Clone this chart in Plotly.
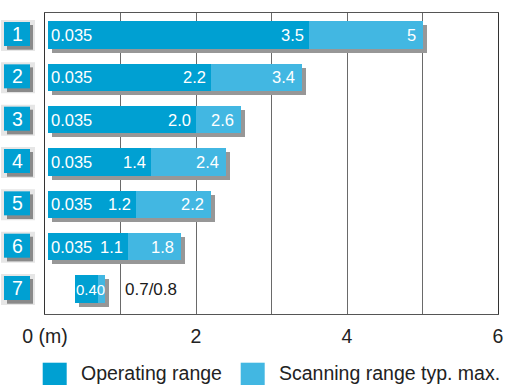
import plotly.graph_objects as go

# Sensor variants and their ranges in metres
rows = ["1", "2", "3", "4", "5", "6", "7"]
start = [0.035, 0.035, 0.035, 0.035, 0.035, 0.035, 0.40]
operating = [3.5, 2.2, 2.0, 1.4, 1.2, 1.1, 0.7]
scanning = [5.0, 3.4, 2.6, 2.4, 2.2, 1.8, 0.8]
start_labels = ["0.035", "0.035", "0.035", "0.035", "0.035", "0.035", "0.40"]
operating_labels = ["3.5", "2.2", "2.0", "1.4", "1.2", "1.1", ""]
scanning_labels = ["5", "3.4", "2.6", "2.4", "2.2", "1.8", ""]
outside_labels = ["", "", "", "", "", "", "0.7/0.8"]
x_ticks = [0, 1, 2, 3, 4, 5, 6]
x_ticktext = ["0 (m)", "", "2", "", "4", "", "6"]
legend_names = ["Operating range", "Scanning range typ. max."]

DARK = "#00A0D2"
LIGHT = "#42B7E2"
SHADOW = "#979797"
FONT = "Liberation Sans, Arial, sans-serif"

W, H = 505, 385
L, R, T, B = 45, 7, 13, 71
PW, PH = W - L - R, H - T - B
X_RANGE = [0, 6]
Y_RANGE = [7.59, 0.48]
BAR_W = 0.65

pos = list(range(1, len(rows) + 1))

# drop-shadow offset: 4 px right, 4 px down, expressed in axis units
dx = 4 * (X_RANGE[1] - X_RANGE[0]) / PW
dy = 4 * (Y_RANGE[0] - Y_RANGE[1]) / PH


def px_x(px):
    return (px - L) / PW


def px_y(py):
    return (H - B - py) / PH


fig = go.Figure()

fig.add_trace(go.Bar(
    orientation="h",
    y=[p + dy for p in pos],
    base=[s + dx for s in start],
    x=[e - s for s, e in zip(start, scanning)],
    width=BAR_W,
    marker=dict(color=SHADOW, line=dict(width=0)),
    hoverinfo="skip",
    showlegend=False,
))
fig.add_trace(go.Bar(
    orientation="h",
    y=pos,
    base=start,
    x=[o - s for s, o in zip(start, operating)],
    width=BAR_W,
    marker=dict(color=DARK, line=dict(width=0)),
    name=legend_names[0],
    showlegend=False,
))
fig.add_trace(go.Bar(
    orientation="h",
    y=pos,
    base=operating,
    x=[e - o for o, e in zip(operating, scanning)],
    width=BAR_W,
    marker=dict(color=LIGHT, line=dict(width=0)),
    name=legend_names[1],
    showlegend=False,
))

annotations = []
shapes = []

for p, s, o, e, sl, ol, el, xl in zip(pos, start, operating, scanning,
                                      start_labels, operating_labels,
                                      scanning_labels, outside_labels):
    white = dict(family=FONT, size=16.5, color="white")
    if ol:
        annotations.append(dict(x=s, y=p, xref="x", yref="y", text=sl,
                                showarrow=False, xanchor="left", xshift=2,
                                borderpad=0, font=white))
        annotations.append(dict(x=o, y=p, xref="x", yref="y", text=ol,
                                showarrow=False, xanchor="right", xshift=-4,
                                borderpad=0, font=white))
        annotations.append(dict(x=e, y=p, xref="x", yref="y", text=el,
                                showarrow=False, xanchor="right", xshift=-6,
                                borderpad=0, font=white))
    else:
        annotations.append(dict(x=(s + e) / 2, y=p, xref="x", yref="y",
                                text=sl, showarrow=False, xanchor="center",
                                font=dict(family=FONT, size=15, color="white")))
    if xl:
        annotations.append(dict(x=e, y=p, xref="x", yref="y", text=xl,
                                showarrow=False, xanchor="left", xshift=18,
                                font=dict(family=FONT, size=17, color="#1a1a1a")))

# numbered row badges on the left
badge_x = px_x(17)
for p, name in zip(pos, rows):
    common = dict(type="rect", xref="paper", yref="y", xsizemode="pixel",
                  ysizemode="pixel", xanchor=badge_x, yanchor=p,
                  line=dict(width=0), layer="above")
    shapes.append(dict(common, x0=-16, x1=18, y0=-16, y1=15,
                       fillcolor="#e6e6e6"))
    shapes.append(dict(common, x0=-10, x1=16, y0=-14.7, y1=10,
                       fillcolor="#8a8a8a"))
    shapes.append(dict(common, x0=-13, x1=13, y0=-11, y1=13,
                       fillcolor=DARK))
    annotations.append(dict(x=badge_x, y=p, xref="paper", yref="y",
                            text=name, showarrow=False, yshift=1,
                            xanchor="center", yanchor="middle",
                            font=dict(family=FONT, size=19.5, color="white")))

# legend keys
for (x0, tx), color, name in zip([(42.7, 79.3), (240.7, 276.7)],
                                 [DARK, LIGHT], legend_names):
    shapes.append(dict(type="rect", xref="paper", yref="paper",
                       x0=px_x(x0), x1=px_x(x0 + 24),
                       y0=px_y(386.7), y1=px_y(362.7),
                       fillcolor=color, line=dict(width=0)))
    annotations.append(dict(x=px_x(tx), y=px_y(373), xref="paper",
                            yref="paper", text=name, showarrow=False,
                            xanchor="left", yanchor="middle",
                            font=dict(family=FONT, size=19.5, color="#222")))

fig.update_layout(
    width=W, height=H,
    margin=dict(l=L, r=R, t=T, b=B, pad=0, autoexpand=False),
    paper_bgcolor="white",
    plot_bgcolor="white",
    barmode="overlay",
    bargap=0,
    showlegend=False,
    annotations=annotations,
    shapes=shapes,
    font=dict(family=FONT, color="#222"),
    xaxis=dict(
        range=X_RANGE,
        tickvals=x_ticks,
        ticktext=x_ticktext,
        ticks="",
        ticklabelstandoff=5,
        tickfont=dict(family=FONT, size=19.5, color="#222"),
        showgrid=True,
        gridcolor="#6a6a6a",
        gridwidth=1,
        zeroline=False,
        showline=True,
        mirror=True,
        linecolor="#555",
        linewidth=1,
        automargin=False,
        fixedrange=True,
    ),
    yaxis=dict(
        range=Y_RANGE,
        showticklabels=False,
        ticks="",
        showgrid=False,
        zeroline=False,
        showline=True,
        mirror=True,
        linecolor="#333",
        linewidth=1,
        automargin=False,
        fixedrange=True,
    ),
)

fig.write_html("out.html")
